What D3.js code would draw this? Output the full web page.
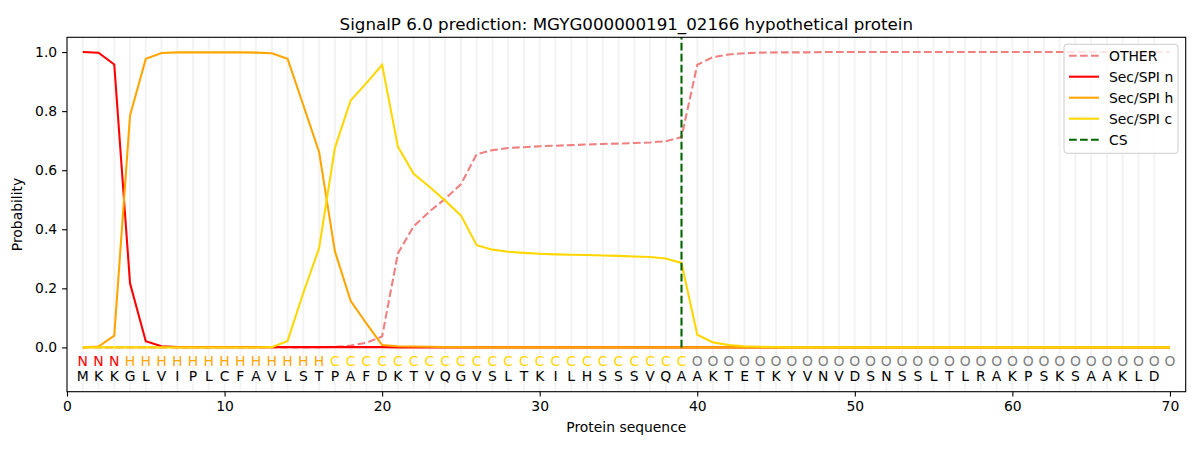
<!DOCTYPE html>
<html>
<head>
<meta charset="utf-8">
<script src="https://cdn.jsdelivr.net/npm/d3@7"></script>
<style>
  body { margin: 0; background: #fff; }
  svg { font-family: "DejaVu Sans", sans-serif; }
</style>
</head>
<body>
<div id="chart"></div>
<script>
// Residues and predicted region labels
const sequence = "MKKGLVIPLCFAVLSTPAFDKTVQGVSLTKILHSSSVQAAKTETKYVNVDSNSSLTLRAKPSKSAAKLD".split("");
const regions = "NNNHHHHHHHHHHHHHCCCCCCCCCCCCCCCCCCCCCCCOOOOOOOOOOOOOOOOOOOOOOOOOOOOOOO".split("");

// Per-residue probabilities
const otherProb = [
  0, 0, 0, 0, 0, 0, 0, 0, 0, 0,
  0, 0, 0, 0, 0, 0, 0.002, 0.006, 0.016, 0.037,
  0.318, 0.41, 0.46, 0.503, 0.552, 0.654, 0.668, 0.675, 0.678, 0.681,
  0.683, 0.685, 0.687, 0.689, 0.69, 0.692, 0.694, 0.698, 0.712, 0.957,
  0.983, 0.992, 0.996, 0.998, 0.999, 0.999, 0.999, 1, 1, 1,
  1, 1, 1, 1, 1, 1, 1, 1, 1, 1,
  1, 1, 1, 1, 1, 1, 1, 1, 1, 1
];
const nProb = [
  1.0, 0.998, 0.958, 0.217, 0.021, 0.004, 0.001, 0.001, 0.001, 0.001,
  0.001, 0.001, 0.001, 0.001, 0.001, 0.001, 0.001, 0.001, 0.001, 0.001,
  0, 0, 0, 0, 0, 0, 0, 0, 0, 0,
  0, 0, 0, 0, 0, 0, 0, 0, 0, 0,
  0, 0, 0, 0, 0, 0, 0, 0, 0, 0,
  0, 0, 0, 0, 0, 0, 0, 0, 0, 0,
  0, 0, 0, 0, 0, 0, 0, 0, 0, 0
];
const hProb = [
  0, 0.003, 0.04, 0.785, 0.977, 0.997, 0.999, 0.999, 0.999, 0.999,
  0.999, 0.998, 0.996, 0.977, 0.82, 0.662, 0.326, 0.158, 0.081, 0.008,
  0.004, 0.003, 0.002, 0.001, 0.001, 0, 0, 0, 0, 0,
  0, 0, 0, 0, 0, 0, 0, 0, 0, 0,
  0, 0, 0, 0, 0, 0, 0, 0, 0, 0,
  0, 0, 0, 0, 0, 0, 0, 0, 0, 0,
  0, 0, 0, 0, 0, 0, 0, 0, 0, 0
];
const cProb = [
  0, 0, 0, 0, 0, 0, 0, 0, 0, 0,
  0, 0, 0.001, 0.022, 0.185, 0.336, 0.675, 0.836, 0.895, 0.957,
  0.68, 0.588, 0.544, 0.497, 0.447, 0.346, 0.331, 0.324, 0.32, 0.317,
  0.315, 0.314, 0.313, 0.311, 0.31, 0.308, 0.306, 0.301, 0.286, 0.043,
  0.017, 0.008, 0.004, 0.002, 0.001, 0, 0, 0, 0, 0,
  0, 0, 0, 0, 0, 0, 0, 0, 0, 0,
  0, 0, 0, 0, 0, 0, 0, 0, 0, 0
];
const cleavageSite = 39;
const xTicks = [0, 10, 20, 30, 40, 50, 60, 70];
const yTicks = [0, 0.2, 0.4, 0.6, 0.8, 1.0];

const series = [
  { name: "OTHER", values: otherProb, color: "#f08080", dash: "7.7,3.3" },
  { name: "Sec/SPI n", values: nProb, color: "#ff0000", dash: null },
  { name: "Sec/SPI h", values: hProb, color: "#ffa500", dash: null },
  { name: "Sec/SPI c", values: cProb, color: "#ffd700", dash: null }
];
const regionColor = { N: "#ff0000", H: "#ffa500", C: "#ffd700", O: "#808080" };

const W = 1200, H = 450;
const margin = { top: 37.3, right: 14.3, bottom: 58.3, left: 67 };
const width = W - margin.left - margin.right,
      height = H - margin.top - margin.bottom;

const svg = d3.select("#chart")
  .append("svg")
  .attr("width", W)
  .attr("height", H);

const g = svg.append("g")
  .attr("transform", `translate(${margin.left},${margin.top})`);

const x = d3.scaleLinear().domain([0, 71]).range([0, width]);
const y = d3.scaleLinear().domain([-0.15, 1.05]).range([height, 0]);

// light vertical guides at each residue
g.selectAll(".guide")
  .data(sequence.map((d, i) => i + 1))
  .enter()
  .append("line")
  .attr("x1", d => x(d)).attr("x2", d => x(d))
  .attr("y1", 0).attr("y2", height)
  .attr("stroke", "#d3d3d3")
  .attr("stroke-opacity", 0.28)
  .attr("stroke-width", 2);

// probability curves
const line = d3.line()
  .x((d, i) => x(i + 1))
  .y(d => y(d));

series.forEach(s => {
  g.append("path")
    .datum(s.values)
    .attr("d", line)
    .attr("fill", "none")
    .attr("stroke", s.color)
    .attr("stroke-width", 2.08)
    .attr("stroke-dasharray", s.dash);
});

// cleavage site
g.append("line")
  .attr("x1", x(cleavageSite)).attr("x2", x(cleavageSite))
  .attr("y1", y(0)).attr("y2", y(1.05))
  .attr("stroke", "#006400")
  .attr("stroke-width", 2.08)
  .attr("stroke-dasharray", "7.7,3.3");

// residue letters
g.selectAll(".region")
  .data(regions)
  .enter()
  .append("text")
  .attr("x", (d, i) => x(i + 1))
  .attr("y", y(-0.045))
  .attr("text-anchor", "middle")
  .attr("dy", "0.35em")
  .style("font-size", "13.9px")
  .attr("fill", d => regionColor[d])
  .text(d => d);

g.selectAll(".aa")
  .data(sequence)
  .enter()
  .append("text")
  .attr("x", (d, i) => x(i + 1))
  .attr("y", y(-0.099))
  .attr("text-anchor", "middle")
  .attr("dy", "0.35em")
  .style("font-size", "13.9px")
  .attr("fill", "#000")
  .text(d => d);

// axes
const xAxis = g.append("g")
  .attr("transform", `translate(0,${height})`)
  .call(d3.axisBottom(x).tickValues(xTicks).tickFormat(d3.format("d")).tickSize(4.9).tickPadding(4.9));
const yAxis = g.append("g")
  .call(d3.axisLeft(y).tickValues(yTicks).tickFormat(d3.format(".1f")).tickSize(4.9).tickPadding(4.9));

[xAxis, yAxis].forEach(a => {
  a.select(".domain").remove();
  a.selectAll("text").style("font-size", "13.9px").style("font-family", "DejaVu Sans").attr("fill", "#000");
  a.selectAll("line").attr("stroke", "#000").attr("stroke-width", 1.1);
});

g.append("rect")
  .attr("width", width).attr("height", height)
  .attr("fill", "none")
  .attr("stroke", "#000")
  .attr("stroke-width", 1.1);

// labels
g.append("text")
  .attr("x", width / 2)
  .attr("y", height + 40)
  .attr("text-anchor", "middle")
  .style("font-size", "13.9px")
  .text("Protein sequence");

g.append("text")
  .attr("transform", "rotate(-90)")
  .attr("x", -height / 2)
  .attr("y", -45)
  .attr("text-anchor", "middle")
  .style("font-size", "13.9px")
  .text("Probability");

g.append("text")
  .attr("x", width / 2)
  .attr("y", -7.5)
  .attr("text-anchor", "middle")
  .style("font-size", "16.7px")
  .text("SignalP 6.0 prediction: MGYG000000191_02166 hypothetical protein");

// legend
const legendItems = series.map(s => ({ name: s.name, color: s.color, dash: s.dash }))
  .concat([{ name: "CS", color: "#006400", dash: "7.7,3.3" }]);

const legend = svg.append("g").attr("transform", "translate(1064,44.3)");
legend.append("rect")
  .attr("width", 114).attr("height", 109)
  .attr("rx", 3)
  .attr("fill", "#fff")
  .attr("fill-opacity", 0.8)
  .attr("stroke", "#cccccc");

const li = legend.selectAll(".li")
  .data(legendItems)
  .enter()
  .append("g")
  .attr("transform", (d, i) => `translate(0,${11.4 + i * 21})`);

li.append("line")
  .attr("x1", 5).attr("x2", 35)
  .attr("stroke", d => d.color)
  .attr("stroke-width", 2.08)
  .attr("stroke-dasharray", d => d.dash);

li.append("text")
  .attr("x", 45)
  .attr("dy", "0.35em")
  .style("font-size", "13.9px")
  .text(d => d.name);
</script>
</body>
</html>
